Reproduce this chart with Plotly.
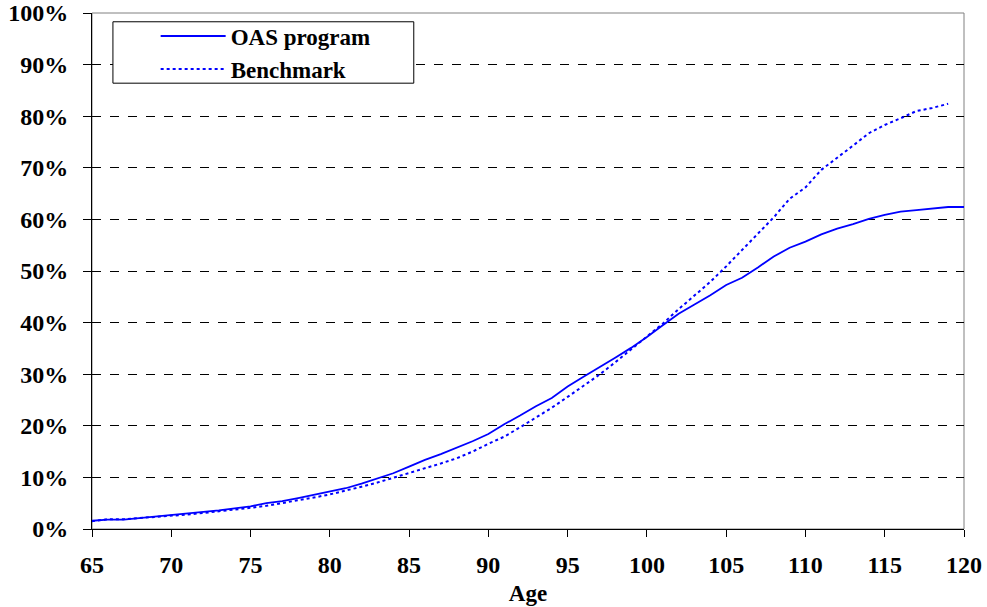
import plotly.graph_objects as go

ages_oas = list(range(65, 121))
oas_program = [1.6, 1.8, 1.8, 2.1, 2.4, 2.6, 2.9, 3.3, 3.6, 4.0,
               4.4, 5.0, 5.4, 6.0, 6.6, 7.2, 7.9, 8.8, 9.8, 10.8,
               12.1, 13.4, 14.5, 15.7, 17.0, 18.4, 20.3, 22.0, 23.8, 25.4,
               27.6, 29.5, 31.3, 33.2, 35.1, 37.2, 39.5, 41.7, 43.5, 45.3,
               47.3, 48.7, 50.7, 52.8, 54.5, 55.7, 57.1, 58.2, 59.1, 60.1,
               60.9, 61.5, 61.8, 62.1, 62.4, 62.4]

ages_bench = list(range(65, 120))
benchmark = [1.5, 1.9, 1.9, 2.1, 2.3, 2.5, 2.8, 3.1, 3.4, 3.7,
             4.1, 4.5, 5.0, 5.5, 6.1, 6.7, 7.4, 8.2, 9.0, 9.9,
             10.8, 11.8, 12.7, 13.7, 15.0, 16.5, 17.9, 19.7, 21.6, 23.5,
             25.6, 27.7, 29.9, 32.3, 34.8, 37.2, 39.8, 42.6, 45.2, 47.9,
             50.9, 54.1, 57.1, 60.4, 64.0, 66.2, 69.6, 71.9, 74.3, 76.7,
             78.3, 79.6, 81.0, 81.6, 82.4]

x_ticks = list(range(65, 121, 5))
y_ticks = list(range(0, 101, 10))

font_family = "Liberation Serif"

fig = go.Figure()
fig.add_trace(go.Scatter(x=ages_oas, y=oas_program, mode="lines", name="<b>OAS program</b>",
                         line=dict(color="#0000FF", width=1.8)))
fig.add_trace(go.Scatter(x=ages_bench, y=benchmark, mode="lines", name="<b>Benchmark</b>",
                         line=dict(color="#0000FF", width=2, dash="dot")))

fig.update_layout(
    width=987, height=607,
    margin=dict(l=92, r=23, t=13, b=78),
    paper_bgcolor="white", plot_bgcolor="white",
    font=dict(family=font_family, size=23, color="black"),
    showlegend=True,
    legend=dict(x=0.073, y=0.997, xanchor="left", yanchor="top",
                bgcolor="rgba(0,0,0,0)", borderwidth=0,
                font=dict(family=font_family, size=23, color="black"),
                itemwidth=65, tracegroupgap=0),
    shapes=[
        dict(type="rect", xref="paper", yref="paper", x0=0, x1=1, y0=0, y1=1,
             line=dict(color="#808080", width=1), layer="below"),
        dict(type="rect", xref="paper", yref="paper", x0=0.024, x1=0.369, y0=0.864, y1=0.983,
             line=dict(color="black", width=1), fillcolor="white", layer="above"),
    ],
)

fig.update_xaxes(range=[65, 120], tickvals=x_ticks, ticktext=[f"<b>{v}</b>" for v in x_ticks],
                 showgrid=False, zeroline=False, automargin=False,
                 showline=True, linecolor="black", linewidth=1,
                 ticks="outside", ticklen=7, tickcolor="black", ticklabelstandoff=7,
                 tickfont=dict(family=font_family, size=24),
                 title=dict(text="<b>Age</b>", font=dict(family=font_family, size=23), standoff=8))
fig.update_yaxes(range=[0, 100], tickvals=y_ticks, ticktext=[f"<b>{v}%</b>" for v in y_ticks],
                 showgrid=True, gridcolor="black", griddash="dash", gridwidth=1,
                 zeroline=False, automargin=False,
                 showline=True, linecolor="black", linewidth=1,
                 ticks="outside", ticklen=8, tickcolor="black", ticklabelstandoff=10,
                 tickfont=dict(family=font_family, size=24))

fig.write_html("out.html", config={"displayModeBar": False},
               post_script="document.body.style.margin='0';document.body.style.padding='0';")
